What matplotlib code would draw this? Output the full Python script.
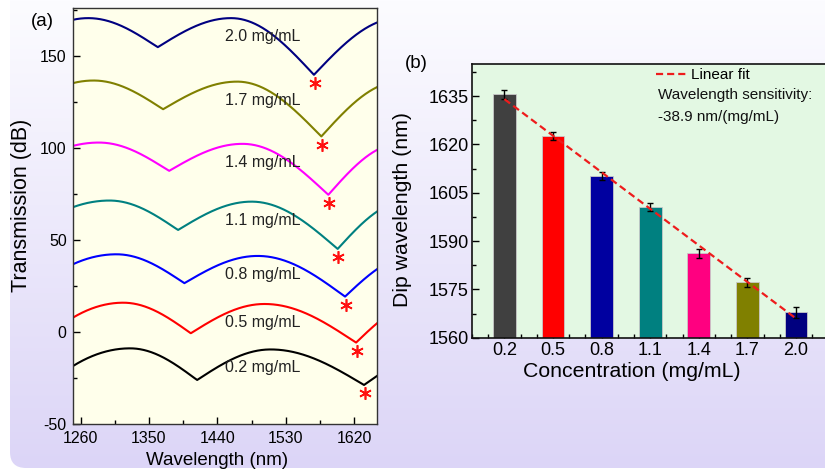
import numpy as np
import matplotlib
matplotlib.use("Agg")
import matplotlib.pyplot as plt
from matplotlib.patches import FancyBboxPatch
from matplotlib.ticker import MultipleLocator

plt.rcParams['font.family'] = ['Liberation Sans', 'DejaVu Sans']
plt.rcParams['axes.unicode_minus'] = False

# ---- panel (a): spectra ----
conc_labels = ['2.0 mg/mL', '1.7 mg/mL', '1.4 mg/mL', '1.1 mg/mL',
               '0.8 mg/mL', '0.5 mg/mL', '0.2 mg/mL']
line_colors = ['#000080', '#808000', '#ff00ff', '#008080',
               '#0000ff', '#ff0000', '#000000']
edge_left = [169.6, 135.2, 101.1, 67.8, 36.8, 7.8, -18.5]      # value at 1250 nm
peak_left_wl = [1270, 1277, 1284, 1298, 1307, 1316, 1325]
peak_left = [170.5, 136.6, 102.9, 71.4, 42.2, 15.9, -8.9]
dip1_wl = [1361.5, 1368.5, 1376.4, 1388.2, 1396.5, 1405.0, 1413.3]
dip1 = [154.7, 121.0, 87.5, 55.4, 26.5, -0.7, -26.1]
peak_mid_wl = [1458, 1466, 1473, 1485, 1493, 1502, 1510]
peak_mid = [170.5, 136.0, 102.2, 70.8, 41.3, 15.2, -9.5]
dip2_wl = [1567.0, 1576.7, 1585.9, 1598.2, 1607.9, 1622.4, 1632.9]
dip2 = [139.7, 106.2, 74.5, 45.1, 19.2, -5.8, -28.8]
edge_right = [168.1, 133.0, 98.9, 65.4, 34.1, 4.7, -23.9]     # value at 1650 nm

# ---- panel (b): dip wavelength vs concentration ----
concentration = [0.2, 0.5, 0.8, 1.1, 1.4, 1.7, 2.0]
dip_wavelength = [1635.6, 1622.6, 1610.2, 1600.5, 1586.2, 1577.2, 1567.9]
dip_err = [1.4, 1.3, 1.2, 1.2, 1.4, 1.3, 1.7]
bar_colors = ['#404040', '#ff0000', '#0000a0', '#008080',
              '#ff0080', '#808000', '#00007f']

WL_MIN, WL_MAX = 1250, 1650


def spectrum(lam, i):
    # arcs between the read peaks and dips (sharp at dips, flat at peaks)
    y = np.empty_like(lam)
    pl, p1, pm, p2 = peak_left_wl[i], dip1_wl[i], peak_mid_wl[i], dip2_wl[i]
    m = lam < pl
    y[m] = peak_left[i] - (peak_left[i] - edge_left[i]) * ((pl - lam[m]) / (pl - WL_MIN)) ** 2
    m = (lam >= pl) & (lam < p1)
    y[m] = dip1[i] + (peak_left[i] - dip1[i]) * np.sin(np.pi / 2 * (p1 - lam[m]) / (p1 - pl))
    m = (lam >= p1) & (lam < pm)
    y[m] = dip1[i] + (peak_mid[i] - dip1[i]) * np.sin(np.pi / 2 * (lam[m] - p1) / (pm - p1))
    m = (lam >= pm) & (lam < p2)
    y[m] = dip2[i] + (peak_mid[i] - dip2[i]) * np.sin(np.pi / 2 * (p2 - lam[m]) / (p2 - pm))
    m = lam >= p2
    t = np.arcsin((edge_right[i] - dip2[i]) / (peak_mid[i] - dip2[i])) * 2 / np.pi
    w = (WL_MAX - p2) / t
    y[m] = dip2[i] + (peak_mid[i] - dip2[i]) * np.sin(np.pi / 2 * np.minimum((lam[m] - p2) / w, 1))
    return y


W, H = 825, 469
fig = plt.figure(figsize=(W / 100, H / 100), dpi=100)

# background: white -> lavender gradient in a rounded panel
bg = fig.add_axes([0, 0, 1, 1], zorder=-10)
bg.set_xlim(0, W)
bg.set_ylim(0, H)
bg.axis('off')
top = np.array([252, 252, 255]) / 255
bot = np.array([220, 213, 247]) / 255
frac = np.linspace(0, 1, 256)[:, None]
grad = (top * (1 - frac) + bot * frac)[:, None, :].repeat(2, axis=1)
im = bg.imshow(grad, extent=[0, W, 0, H], aspect='auto', origin='upper')
panel = FancyBboxPatch((10, 1), 900, 600, boxstyle='round,pad=0,rounding_size=16',
                       transform=bg.transData, facecolor='none', edgecolor='none')
bg.add_patch(panel)
im.set_clip_path(panel)

# ---- (a) ----
ax1 = fig.add_axes([73 / W, 1 - 424 / H, 304 / W, 416 / H])
ax1.set_facecolor('#ffffeb')
lam = np.linspace(WL_MIN, WL_MAX, 3000)
for i in range(len(conc_labels)):
    ax1.plot(lam, spectrum(lam, i), color=line_colors[i], lw=1.5)
    ax1.plot(dip2_wl[i] + 1, dip2[i] - 4.5, marker=(6, 2, 0), color='red',
             ms=9, mew=1.2, mec='#ff1010')
    ax1.text(1450, peak_mid[i] - 10, conc_labels[i], fontsize=11.5,
             color='#222222', va='center', ha='left')

ax1.set_xlim(WL_MIN, WL_MAX)
ax1.set_ylim(-50, 176)
ax1.set_xticks([1260, 1350, 1440, 1530, 1620])
ax1.xaxis.set_minor_locator(MultipleLocator(45))
ax1.set_yticks([-50, 0, 50, 100, 150])
ax1.yaxis.set_minor_locator(MultipleLocator(25))
ax1.tick_params(which='both', direction='in', labelsize=11.5)
ax1.tick_params(axis='y', pad=4.5)
ax1.tick_params(axis='x', pad=5)
ax1.tick_params(which='major', length=5, width=1)
ax1.tick_params(which='minor', length=3, width=1)
ax1.set_xlabel('Wavelength (nm)', fontsize=13.5)
ax1.set_ylabel('Transmission (dB)', fontsize=15.5)
ax1.xaxis.set_label_coords(0.474, -0.067)
ax1.yaxis.set_label_coords(-0.135, 0.526)
for s in ax1.spines.values():
    s.set_linewidth(1.0)
    s.set_color('#333333')

# ---- (b) ----
ax2 = fig.add_axes([472 / W, 1 - 337.7 / H, 356.4 / W, 273.7 / H])
ax2.set_facecolor('#e3f8e3')
ax2.bar(concentration, np.array(dip_wavelength) - 1560, bottom=1560, width=0.14,
        color=bar_colors, edgecolor='#c8c8c8', linewidth=0.6, zorder=2)
ax2.errorbar(concentration, dip_wavelength, yerr=dip_err, fmt='none',
             ecolor='black', elinewidth=1, capsize=2.5, capthick=1, zorder=3)
slope, intercept = np.polyfit(concentration, dip_wavelength, 1)
cx = np.array([concentration[0], concentration[-1]])
fit_line, = ax2.plot(cx, slope * cx + intercept, color='#ee1c1c', lw=1.6,
                     dashes=(3.2, 1.8), zorder=4)

ax2.set_xlim(0, 2.2)
ax2.set_ylim(1560, 1645)
ax2.set_xticks(concentration)
ax2.set_xticklabels(['%.1f' % c for c in concentration])
ax2.xaxis.set_minor_locator(MultipleLocator(0.1))
ax2.set_yticks([1560, 1575, 1590, 1605, 1620, 1635])
ax2.yaxis.set_minor_locator(MultipleLocator(7.5))
ax2.tick_params(which='both', direction='in', labelsize=13)
ax2.tick_params(axis='y', pad=2.5)
ax2.tick_params(axis='x', pad=3)
ax2.tick_params(which='major', length=5, width=1)
ax2.tick_params(which='minor', length=3, width=1)
ax2.set_xlabel('Concentration (mg/mL)', fontsize=15.3)
ax2.set_ylabel('Dip wavelength (nm)', fontsize=15.3)
ax2.xaxis.set_label_coords(0.4475, -0.088)
ax2.yaxis.set_label_coords(-0.168, 0.468)
for s in ax2.spines.values():
    s.set_linewidth(1.2)
    s.set_color('#111111')

ax2.legend([fit_line], ['Linear fit'], loc='center left', bbox_to_anchor=(0.515, 0.96),
           frameon=False, fontsize=11, handlelength=2.0, handletextpad=0.3,
           borderpad=0, borderaxespad=0)
ax2.text(0.522, 0.887, 'Wavelength sensitivity:', transform=ax2.transAxes,
         fontsize=11, va='center', ha='left', color='#111111')
ax2.text(0.522, 0.807, '-38.9 nm/(mg/mL)', transform=ax2.transAxes,
         fontsize=11, va='center', ha='left', color='#111111')

fig.text(42 / W, 1 - 21 / H, '(a)', fontsize=13.5, ha='center', va='center')
fig.text(416 / W, 1 - 63 / H, '(b)', fontsize=13.5, ha='center', va='center')

fig.savefig('out.png', dpi=100)
